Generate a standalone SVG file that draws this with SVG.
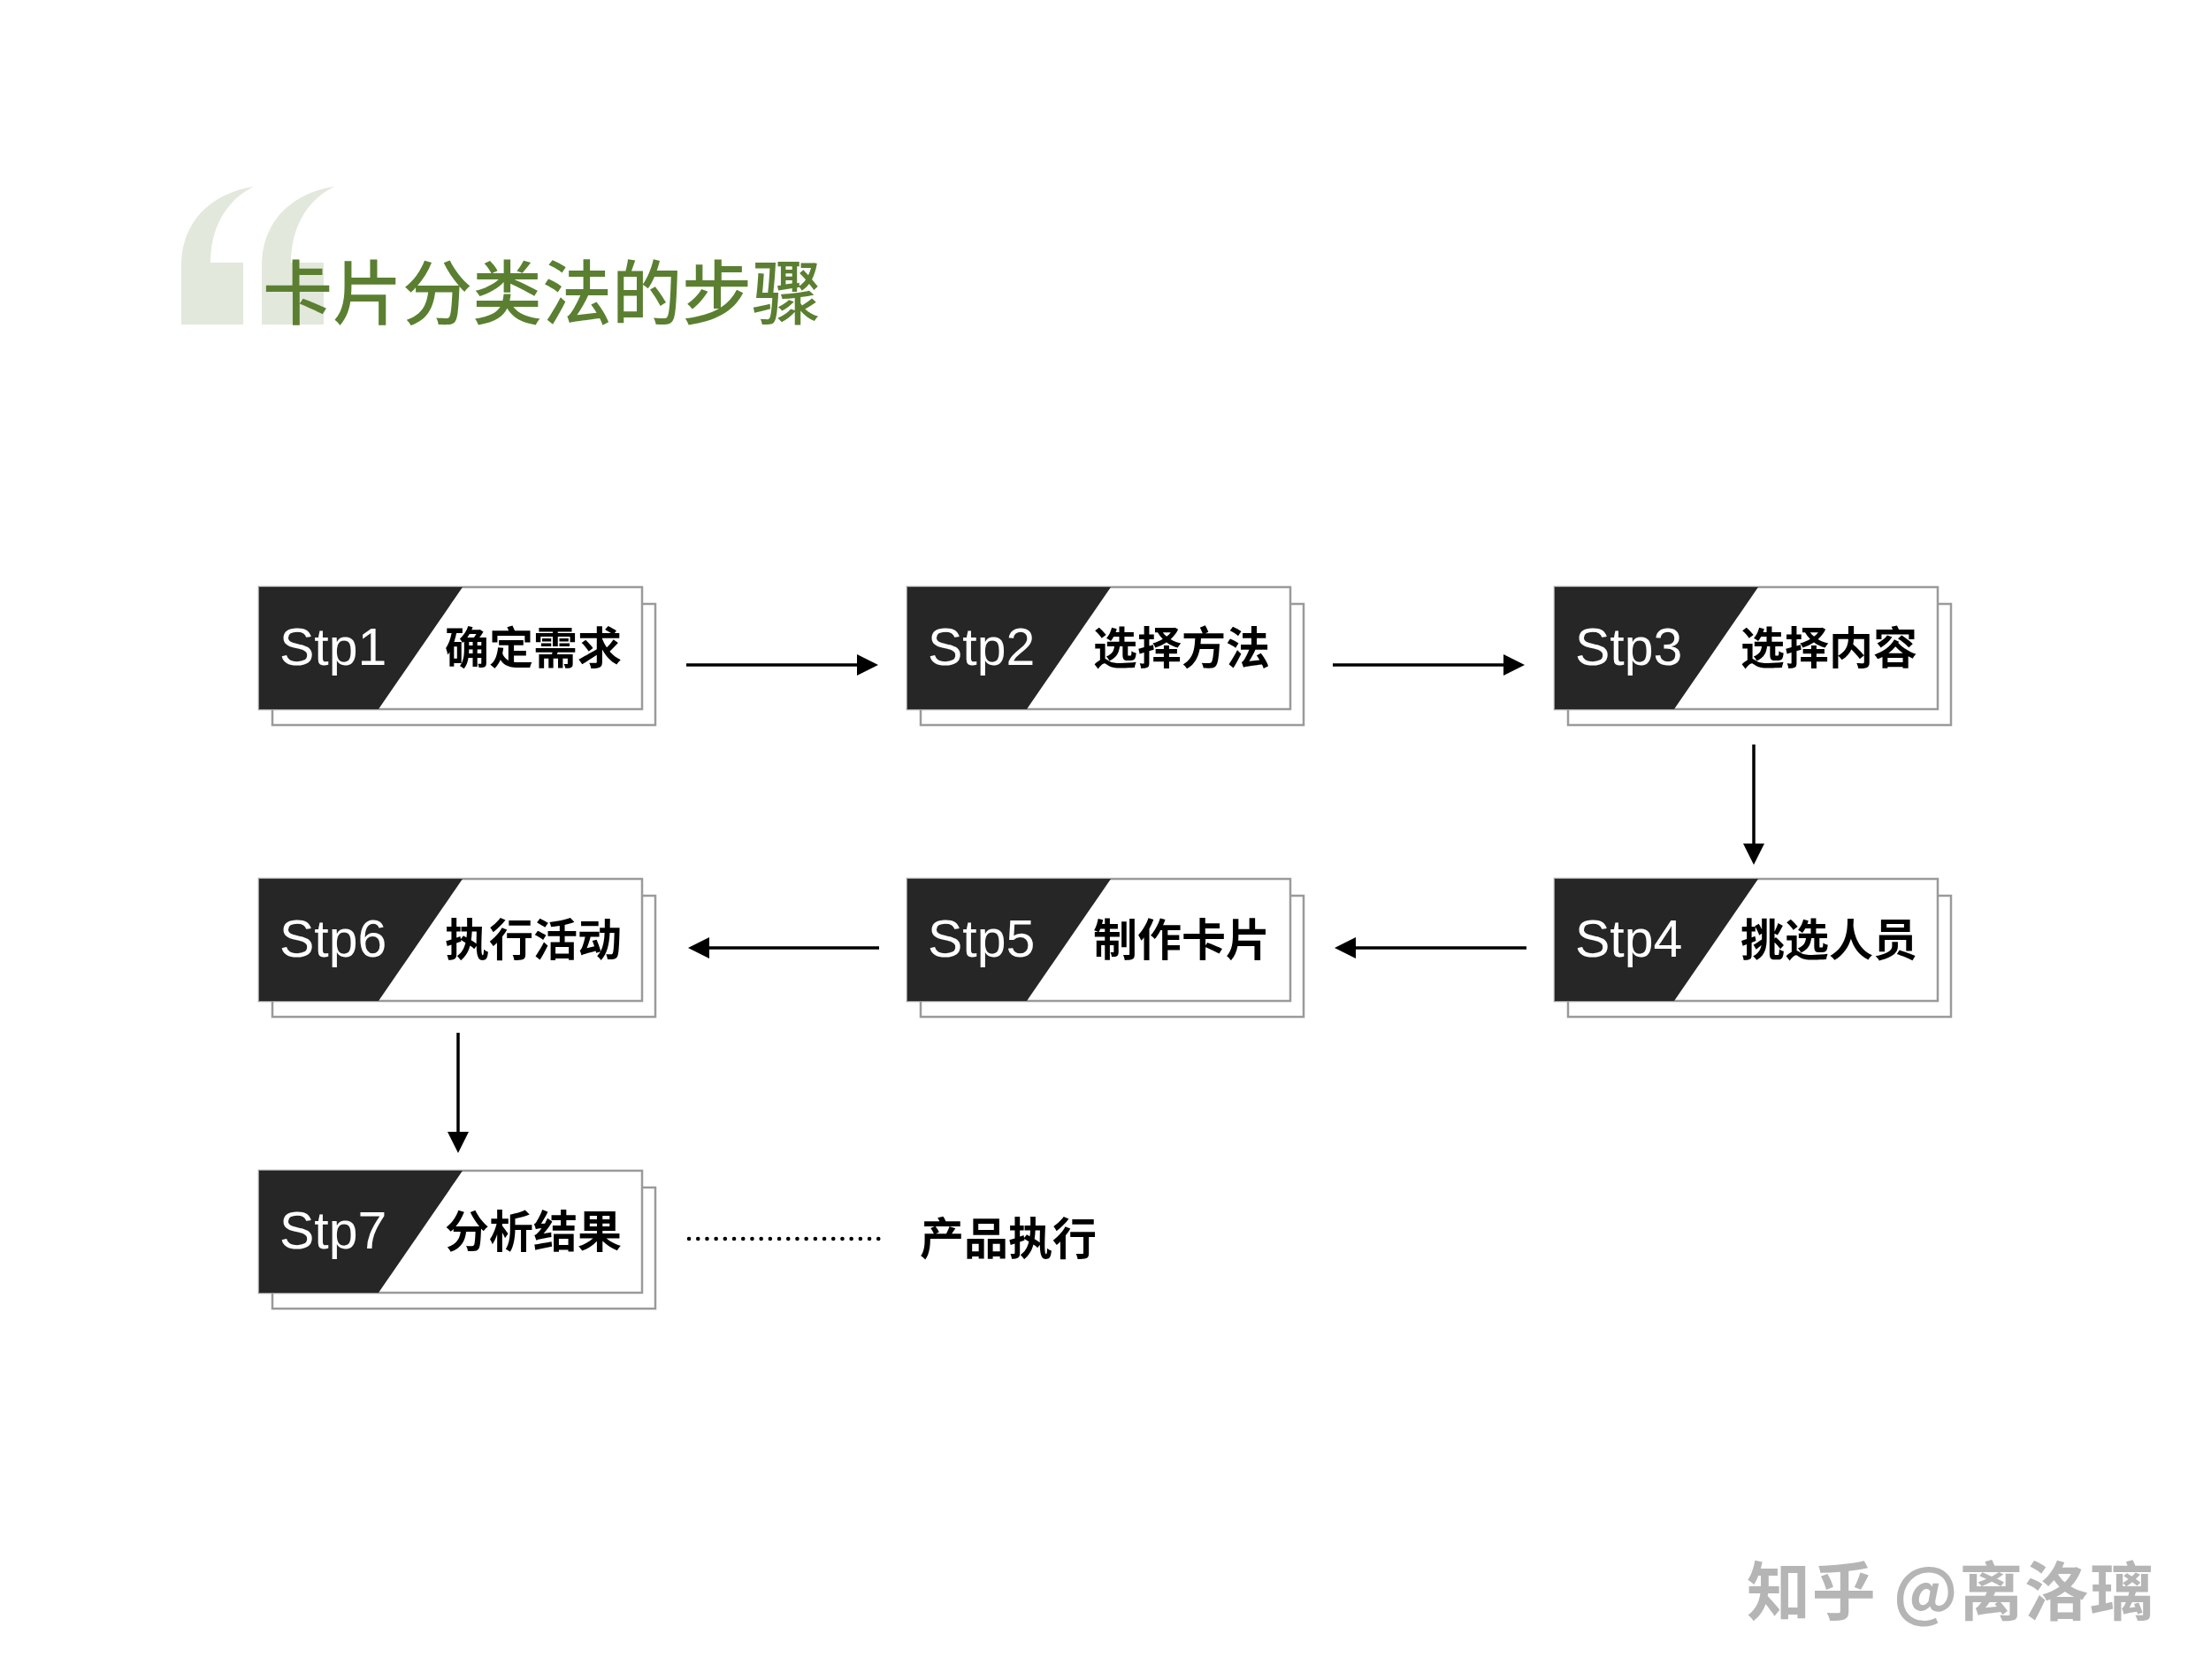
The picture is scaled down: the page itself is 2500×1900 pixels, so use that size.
<svg xmlns="http://www.w3.org/2000/svg" width="2500" height="1900" viewBox="0 0 2500 1900">
<style>
.back{fill:#ffffff;stroke:#9a9a9a;stroke-width:2.5}
.front{fill:#ffffff;stroke:#9a9a9a;stroke-width:2.5}
.dark{fill:#262626}
.stp{font-family:"Liberation Sans",Arial,sans-serif;font-size:59px;fill:#ffffff}
.lbl{font-family:"Noto Sans CJK SC",sans-serif;font-size:50px;font-weight:700;fill:#000000}
.conn{stroke:#000000;stroke-width:3.5;fill:none}
</style>
<defs>
<marker id="ah" markerUnits="userSpaceOnUse" markerWidth="24" markerHeight="24" refX="0" refY="12" orient="auto" viewBox="0 0 24 24">
<path d="M0,0 L24,12 L0,24 Z" fill="#000000"/>
</marker>
<g id="card">
<rect class="back" x="15" y="19" width="433" height="137"/>
<rect class="front" x="0" y="0" width="433" height="138"/>
<polygon class="dark" points="0,0 230,0 135,138 0,138"/>
</g>
</defs>
<rect width="2500" height="1900" fill="#ffffff"/>
<g id="title">
<path d="M205 367 L205 300 C205 250 240 218 287 211 C258 225 238 255 238 297 L275 297 L275 367 Z" fill="#e2e8dc"/>
<path d="M296 367 L296 300 C296 250 331 218 378 211 C349 225 329 255 329 297 L366 297 L366 367 Z" fill="#e2e8dc"/>
<text x="297" y="361" font-family="Noto Sans CJK SC, sans-serif" font-size="79" font-weight="500" fill="#5b7f31">卡片分类法的步骤</text>
</g>
<g id="node1"><use href="#card" x="293" y="664"/><text class="stp" x="316" y="752">Stp1</text><text class="lbl" x="503" y="751">确定需求</text></g>
<g id="node2"><use href="#card" x="1026" y="664"/><text class="stp" x="1049" y="752">Stp2</text><text class="lbl" x="1236" y="751">选择方法</text></g>
<g id="node3"><use href="#card" x="1758" y="664"/><text class="stp" x="1781" y="752">Stp3</text><text class="lbl" x="1968" y="751">选择内容</text></g>
<g id="node4"><use href="#card" x="1758" y="994"/><text class="stp" x="1781" y="1082">Stp4</text><text class="lbl" x="1968" y="1081">挑选人员</text></g>
<g id="node5"><use href="#card" x="1026" y="994"/><text class="stp" x="1049" y="1082">Stp5</text><text class="lbl" x="1236" y="1081">制作卡片</text></g>
<g id="node6"><use href="#card" x="293" y="994"/><text class="stp" x="316" y="1082">Stp6</text><text class="lbl" x="503" y="1081">执行活动</text></g>
<g id="node7"><use href="#card" x="293" y="1324"/><text class="stp" x="316" y="1412">Stp7</text><text class="lbl" x="503" y="1411">分析结果</text></g>
<g id="note"><text class="lbl" x="1040" y="1419">产品执行</text></g>
<g id="connectors">
<line class="conn" x1="776" y1="752" x2="969" y2="752" marker-end="url(#ah)"/>
<line class="conn" x1="1507" y1="752" x2="1700" y2="752" marker-end="url(#ah)"/>
<line class="conn" x1="1983" y1="842" x2="1983" y2="954" marker-end="url(#ah)"/>
<line class="conn" x1="1726" y1="1072" x2="1533" y2="1072" marker-end="url(#ah)"/>
<line class="conn" x1="994" y1="1072" x2="802" y2="1072" marker-end="url(#ah)"/>
<line class="conn" x1="518" y1="1168" x2="518" y2="1280" marker-end="url(#ah)"/>
<line x1="779" y1="1401" x2="1000" y2="1401" stroke="#000000" stroke-width="4.5" stroke-linecap="round" stroke-dasharray="0.1 10.1"/>
</g>
<g id="watermark"><text x="1975" y="1826" font-family="Noto Sans CJK SC, sans-serif" font-size="72" font-weight="700" fill="#b5b5b5" textLength="460" lengthAdjust="spacing">知乎 @离洛璃</text></g>
</svg>
